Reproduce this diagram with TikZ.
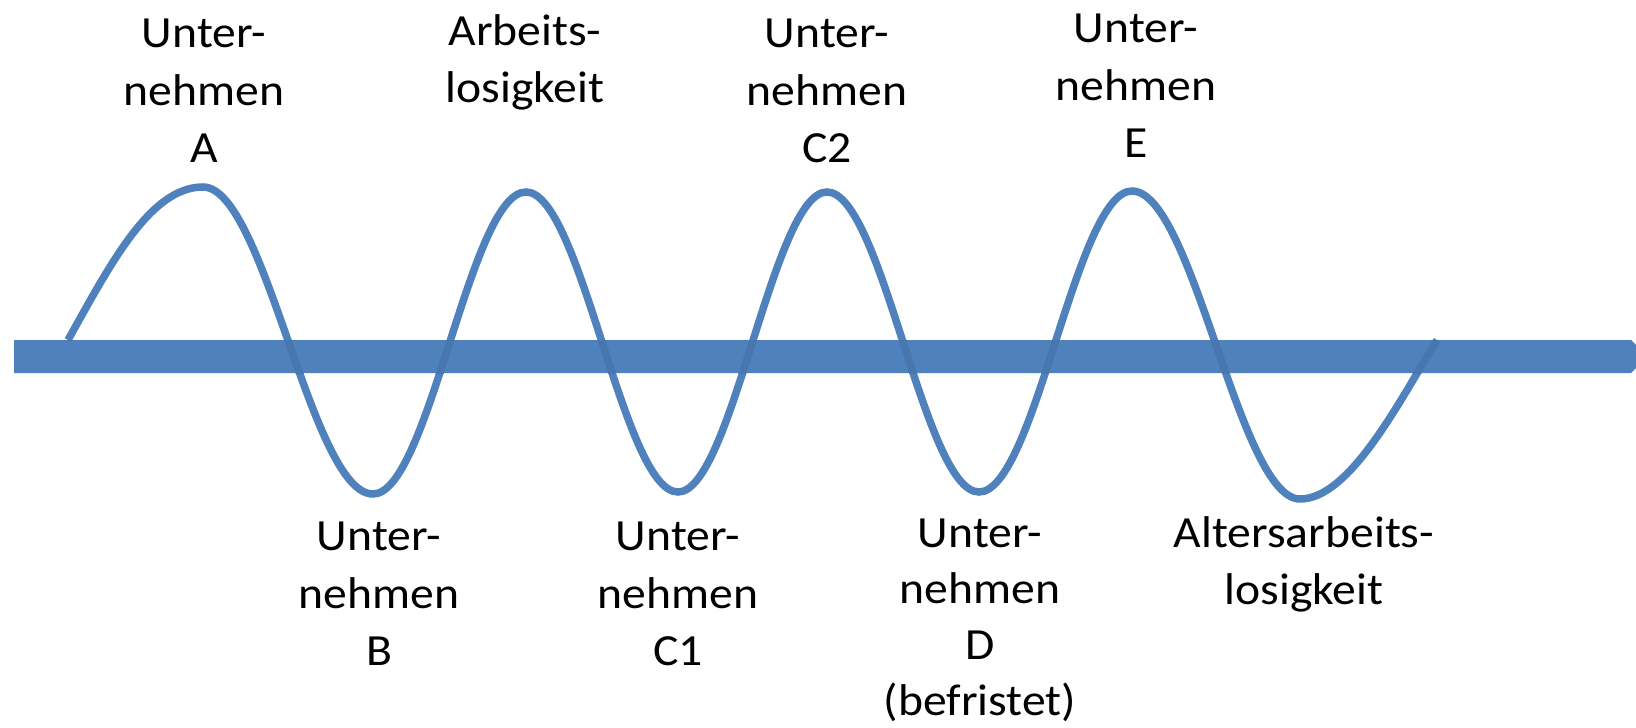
\documentclass[tikz,border=0pt]{standalone}
\usepackage{fontspec}
\setmainfont{Carlito}[FakeStretch=1.07]
\definecolor{wblue}{HTML}{4F81BD}
\definecolor{wdark}{HTML}{4876AE}
\begin{document}
\begin{tikzpicture}[x=1pt,y=-1pt,
  lbl/.style={anchor=north, inner sep=0pt, align=center, font=\fontsize{44.5}{57.5}\selectfont},
  wavestyle/.style={line width=7.5pt}]
\useasboundingbox (0,0) rectangle (1636,728);
% bar
\path[fill=wblue] (14,340) -- (1631,340) -- (1636,345) -- (1636,368) -- (1631,373) -- (14,373) -- cycle;
% wave extrema
\coordinate (w0) at (68,340);
\coordinate (pA) at (203,187);
\coordinate (tB) at (373,494);
\coordinate (p2) at (526,192);
\coordinate (tC1) at (678,492);
\coordinate (p3) at (827,192);
\coordinate (tD) at (979,492);
\coordinate (p4) at (1132,191);
\coordinate (t5) at (1300,499);
\coordinate (w9) at (1437,340);
\def\wavepath{(w0) .. controls +(42,-75) and +(-53,0) .. (pA)
  .. controls +(62,0) and +(-62,0) .. (tB)
  .. controls +(56,0) and +(-56,0) .. (p2)
  .. controls +(55,0) and +(-55,0) .. (tC1)
  .. controls +(54,0) and +(-54,0) .. (p3)
  .. controls +(55,0) and +(-55,0) .. (tD)
  .. controls +(56,0) and +(-56,0) .. (p4)
  .. controls +(61,0) and +(-61,0) .. (t5)
  .. controls +(50,0) and +(-37,60) .. (w9)}
\draw[wavestyle, wblue] \wavepath;
\begin{scope}
\clip (14,340) rectangle (1636,373);
\draw[wavestyle, wdark] \wavepath;
\end{scope}
% labels
\node[lbl] (lA) at (204,19) {Unter-\\nehmen\\A};
\node[lbl] (lArb) at (525,14) {Arbeits-\\losigkeit};
\node[lbl] (lC2) at (827,19) {Unter-\\nehmen\\C2};
\node[lbl] (lE) at (1136,14) {Unter-\\nehmen\\E};
\node[lbl] (lB) at (379,522) {Unter-\\nehmen\\B};
\node[lbl] (lC1) at (678,522) {Unter-\\nehmen\\C1};
\node[lbl, font=\fontsize{44.5}{56}\selectfont] (lD) at (980,519) {Unter-\\nehmen\\D\\(befristet)};
\node[lbl] (lAlt) at (1304,516) {Altersarbeits-\\losigkeit};
\end{tikzpicture}
\end{document}
